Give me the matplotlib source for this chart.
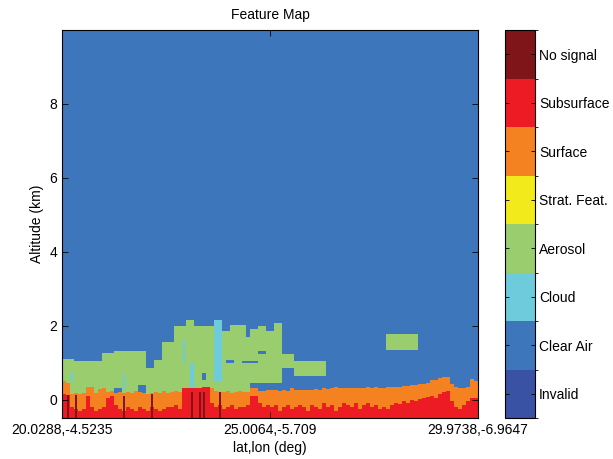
import numpy as np
import matplotlib
matplotlib.use("Agg")
import matplotlib.pyplot as plt
from matplotlib.colors import ListedColormap, BoundaryNorm

# Feature classes and colours (colorbar order, bottom to top)
class_names = ['Invalid', 'Clear Air', 'Cloud', 'Aerosol', 'Strat. Feat.',
               'Surface', 'Subsurface', 'No signal']
class_colors = ['#3a52a3', '#3e76bb', '#6ecbdc', '#9acd6e', '#f2ea1a',
                '#f58220', '#ed1c24', '#7f1518']

tick_labels = ['20.0288,-4.5235', '25.0064,-5.709', '29.9738,-6.9647']

# Per-profile heights (km), 104 profiles along track
surface_top = [
    0.50, 0.45, 0.16, 0.18, 0.16, 0.17, 0.35, 0.35, 0.17, 0.28,
    0.30, 0.20, 0.22, 0.18, 0.20, 0.17, 0.20, 0.18, 0.22, 0.20,
    0.18, 0.15, 0.18, 0.20, 0.17, 0.22, 0.17, 0.20, 0.22, 0.20,
    0.32, 0.32, 0.30, 0.30, 0.30, 0.33, 0.35, 0.30, 0.22, 0.20,
    0.20, 0.22, 0.18, 0.20, 0.22, 0.20, 0.20, 0.32, 0.30, 0.22,
    0.22, 0.25, 0.25, 0.27, 0.24, 0.25, 0.24, 0.30, 0.25, 0.25,
    0.26, 0.25, 0.27, 0.28, 0.27, 0.30, 0.28, 0.30, 0.33, 0.30,
    0.30, 0.32, 0.30, 0.32, 0.30, 0.30, 0.35, 0.32, 0.33, 0.32,
    0.32, 0.33, 0.33, 0.35, 0.35, 0.36, 0.37, 0.40, 0.38, 0.42,
    0.43, 0.46, 0.52, 0.54, 0.57, 0.60, 0.62, 0.42, 0.33, 0.30,
    0.32, 0.35, 0.55, 0.50]

subsurface_top = [
    0.15, 0.12, -0.20, -0.25, -0.30, -0.25, 0.10, -0.20, -0.30, -0.25,
    -0.20, 0.05, 0.10, -0.15, -0.25, -0.30, -0.20, -0.25, -0.30, -0.20,
    -0.25, -0.30, -0.20, -0.25, -0.30, -0.25, -0.20, -0.20, -0.15, -0.25,
    0.30, 0.30, 0.30, 0.30, 0.30, 0.33, 0.35, -0.10, -0.20, -0.15,
    -0.25, -0.20, -0.15, -0.25, -0.20, -0.20, -0.15, 0.10, 0.10, -0.10,
    -0.20, -0.15, -0.20, -0.15, -0.30, -0.20, -0.15, -0.25, -0.20, -0.15,
    -0.20, -0.30, -0.15, -0.20, -0.25, -0.10, -0.20, -0.15, -0.30, -0.20,
    -0.10, -0.15, -0.20, -0.10, -0.25, -0.15, -0.10, -0.20, -0.15, -0.25,
    -0.20, -0.25, -0.15, -0.10, -0.12, -0.05, -0.10, 0.00, -0.05, 0.02,
    0.05, 0.08, 0.10, 0.05, 0.15, 0.20, 0.24, -0.05, -0.20, -0.25,
    -0.15, -0.05, 0.05, 0.05]

nan = np.nan
aerosol_top = (
    [1.10] * 3 + [1.05] * 7 + [1.25] * 3 + [1.32] * 8 + [0.84] * 2
    + [1.08] * 2 + [1.55] * 3 + [2.00] * 3 + [2.16] * 2 + [2.00] * 7
    + [1.86] * 2 + [2.03] * 4 + [1.70] + [1.90] * 2 + [2.00] * 2
    + [1.86] * 2 + [2.08] * 2 + [1.22] * 3 + [1.03] * 8 + [nan] * 15
    + [1.76] * 8 + [nan] * 15)
# nan base -> layer sits on the surface
aerosol_base = ([nan] * 47 + [0.45] * 8 + [0.84] * 3 + [0.65] * 8
                + [nan] * 15 + [1.35] * 8 + [nan] * 15)

# (first profile, last profile, base km, top km)
cloud_patches = [(38, 39, 0.50, 2.16), (32, 32, 0.27, 1.00)]
clear_gaps = [(19, 20, 0.16, 0.38), (13, 14, 0.19, 0.32), (35, 35, 0.54, 0.73),
              (41, 42, 1.00, 1.08), (49, 50, 1.22, 1.30), (45, 48, 1.00, 1.05)]
# thin cloud streaks: (profile, base km, top km)
thin_cloud = [(30, 0.95, 1.60), (2, 0.50, 0.75), (15, 0.25, 0.70)]
no_signal_cols = [1, 3, 15, 22, 32, 34, 35, 39]
no_signal_top = [0.13, 0.13, 0.10, 0.15, 0.20, 0.20, 0.20, 0.20]

# Build the feature grid
n_prof = len(surface_top)
alt_edges = np.linspace(-0.5, 10.0, 1051)
alt = 0.5 * (alt_edges[:-1] + alt_edges[1:])
grid = np.ones((alt.size, n_prof))

for j in range(n_prof):
    if not np.isnan(aerosol_top[j]):
        base = surface_top[j] if np.isnan(aerosol_base[j]) else aerosol_base[j]
        grid[(alt >= base) & (alt < aerosol_top[j]), j] = 3

for c0, c1, lo, hi in clear_gaps:
    grid[(alt >= lo) & (alt < hi), c0:c1 + 1] = 1
for c0, c1, lo, hi in cloud_patches:
    grid[(alt >= lo) & (alt < hi), c0:c1 + 1] = 2

for j in range(n_prof):
    grid[alt < surface_top[j], j] = 5
    grid[alt < subsurface_top[j], j] = 6

plt.rcParams['font.family'] = ['Liberation Sans', 'DejaVu Sans']
plt.rcParams['font.size'] = 10

fig = plt.figure(figsize=(6.13, 4.59), dpi=100)
ax = fig.add_axes([62 / 613, 41 / 459, 416 / 613, 388 / 459])
cax = fig.add_axes([505 / 613, 41 / 459, 30 / 613, 388 / 459])

cmap = ListedColormap(class_colors)
norm = BoundaryNorm(np.arange(-0.5, 8.5, 1), cmap.N)
mesh = ax.pcolormesh(np.arange(n_prof + 1), alt_edges, grid, cmap=cmap, norm=norm)

# narrow features drawn as half-profile bars
for j, lo, hi in thin_cloud:
    ax.bar(j + 0.5, hi - lo, width=0.35, bottom=lo, color=class_colors[2], linewidth=0)
ns_top = np.array(no_signal_top)
ax.bar(np.array(no_signal_cols) + 0.5, ns_top + 0.5, width=0.55, bottom=-0.5,
       color=class_colors[7], linewidth=0)

ax.set_xlim(0, n_prof)
ax.set_ylim(-0.5, 10)
ax.set_xticks([0, n_prof / 2, n_prof])
ax.set_xticklabels(tick_labels)
ax.set_yticks([0, 2, 4, 6, 8])
ax.tick_params(direction='in', top=True, right=True, length=4, width=0.6)
ax.set_xlabel('lat,lon (deg)', labelpad=3)
ax.set_ylabel('Altitude (km)')
ax.set_title('Feature Map', fontsize=10, pad=8)
for s in ax.spines.values():
    s.set_linewidth(0.8)

cb = fig.colorbar(mesh, cax=cax, ticks=range(8))
cb.set_ticklabels(class_names)
cax.tick_params(direction='in', left=True, right=True, length=3, width=0.6, pad=3)
cb.outline.set_linewidth(0.8)

fig.savefig('out.png', dpi=100)
